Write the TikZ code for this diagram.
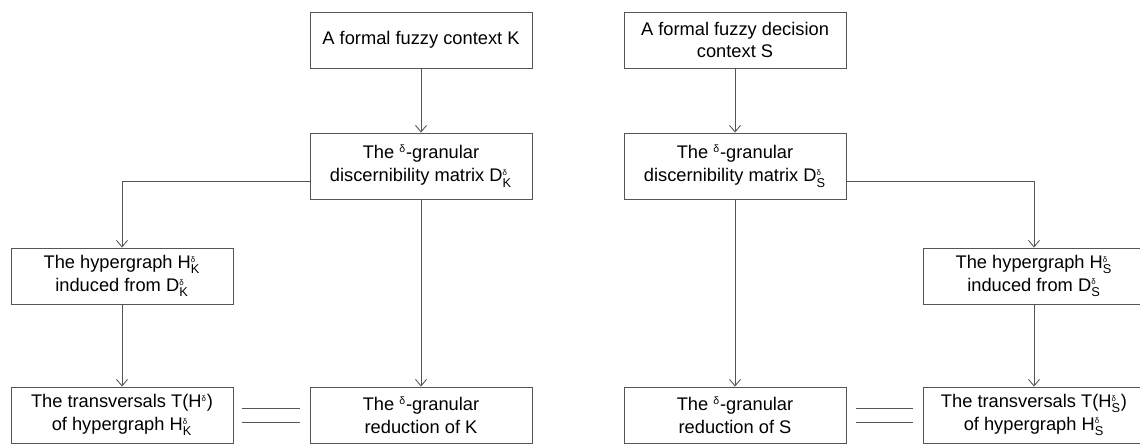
\documentclass[tikz,border=0pt]{standalone}
\usepackage{amsmath}
\usepackage{fontspec}
\setmainfont{Liberation Sans}
\usepackage{tikz}
\usetikzlibrary{arrows.meta, positioning, calc}
\definecolor{line-gray}{RGB}{85, 85, 85}
% small delta on top, index below
\newcommand{\dsym}[2]{#1$^{\text{\fontsize{4.5}{5}\selectfont δ}}_{\text{#2}}$}
\newcommand{\sdelta}{\textsuperscript{\fontsize{6}{6}\selectfont δ}}

\begin{document}
\begin{tikzpicture}[
  box/.style={rectangle,draw=line-gray,line width=0.5pt,minimum width=4.44cm,minimum height=1.12cm,
              align=center,font=\fontsize{10.4}{13}\selectfont,inner sep=1pt},
  tall/.style={minimum height=1.32cm},
  arrow/.style={-{Straight Barb[length=1.3mm,width=2.2mm]},line-gray,line width=0.5pt},
  equal/.style={line-gray,line width=0.5pt}
]
  \useasboundingbox (0,0) rectangle (22.8,-8.88);

  \node[box]       (ctxk)  at (8.42,-0.8)  {A formal fuzzy context K};
  \node[box]       (ctxs)  at (14.7,-0.8)  {A formal fuzzy decision\\context S};
  \node[box, tall] (matk)  at (8.42,-3.32) {The \sdelta-granular\\discernibility matrix \dsym{D}{K}};
  \node[box, tall] (mats)  at (14.7,-3.32) {The \sdelta-granular\\discernibility matrix \dsym{D}{S}};
  \node[box]       (hypk)  at (2.44,-5.52) {The hypergraph \dsym{H}{K}\\induced from \dsym{D}{K}};
  \node[box]       (hyps)  at (20.68,-5.52) {The hypergraph \dsym{H}{S}\\induced from \dsym{D}{S}};
  \node[box]       (trk)   at (2.44,-8.3)  {The transversals T(H\textsuperscript{\fontsize{4.5}{5}\selectfont δ})\\of hypergraph \dsym{H}{K}};
  \node[box]       (redk)  at (8.42,-8.3)  {The \sdelta-granular\\reduction of K};
  \node[box]       (reds)  at (14.7,-8.3)  {The \sdelta-granular\\reduction of S};
  \node[box]       (trs)   at (20.68,-8.3) {The transversals T(\dsym{H}{S})\\of hypergraph \dsym{H}{S}};

  \draw[arrow] (ctxk) -- (matk);
  \draw[arrow] (ctxs) -- (mats);
  \draw[arrow] ([yshift=-0.3cm]matk.west) -| (hypk.north);
  \draw[arrow] ([yshift=-0.3cm]mats.east) -| (hyps.north);
  \draw[arrow] (matk) -- (redk);
  \draw[arrow] (mats) -- (reds);
  \draw[arrow] (hypk) -- (trk);
  \draw[arrow] (hyps) -- (trs);

  \foreach \dy in {0.14,-0.14} {
    \draw[equal, shorten <=0.18cm, shorten >=0.2cm] ([yshift=\dy cm]trk.east) -- ([yshift=\dy cm]redk.west);
    \draw[equal, shorten <=0.2cm, shorten >=0.2cm] ([yshift=\dy cm]reds.east) -- ([yshift=\dy cm]trs.west);
  }
\end{tikzpicture}
\end{document}
